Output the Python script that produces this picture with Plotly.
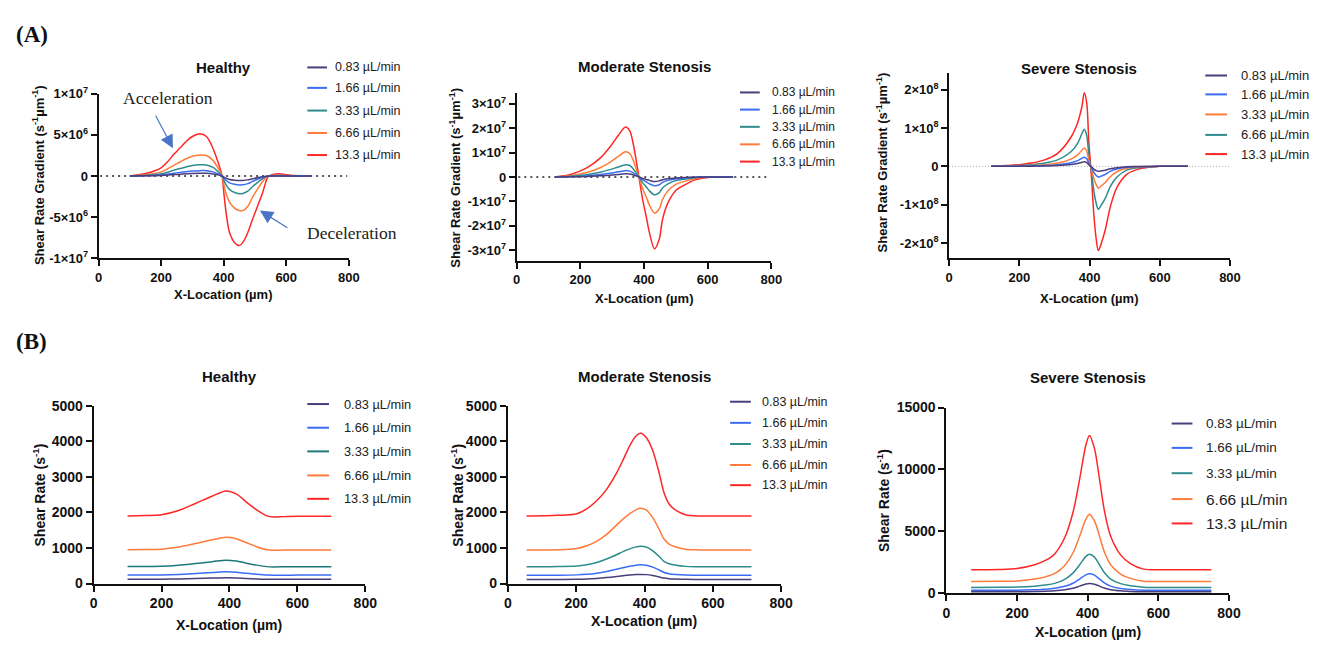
import plotly.graph_objects as go

W, H = 1322, 648
SANS = "Liberation Sans, Arial, sans-serif"
SERIF = "Liberation Serif, Times New Roman, serif"

flow_labels = ["0.83 µL/min", "1.66 µL/min", "3.33 µL/min", "6.66 µL/min", "13.3 µL/min"]

PURPLE = "#4a3d7c"
BLUE = "#3b6cf4"
TEAL = "#2e8c8c"
ORANGE = "#ff7b3a"
RED = "#ff2626"

# ---- (A) shear rate gradient, Healthy (units of 1e6 s^-1 µm^-1) ----
healthy_grad_x = [100, 150, 200, 220, 240, 260, 280, 300, 324, 345, 366, 380, 395, 401, 408, 419,
                  435, 450, 461, 477, 492, 508, 524, 538, 545, 560, 575, 614, 666, 680]
healthy_grad_083 = [0, 0.02, 0.07, 0.11, 0.17, 0.22, 0.26, 0.3, 0.32, 0.32, 0.25, 0.15, 0, -0.14, -0.28, -0.42,
                    -0.51, -0.55, -0.54, -0.47, -0.33, -0.2, -0.09, -0.02, 0, 0.01, 0.01, 0, 0, 0]
healthy_grad_166 = [0, 0.04, 0.13, 0.22, 0.34, 0.44, 0.53, 0.61, 0.65, 0.65, 0.5, 0.29, 0, -0.28, -0.55, -0.83,
                    -1.0, -1.08, -1.07, -0.93, -0.66, -0.4, -0.18, -0.03, 0, 0.02, 0.02, 0.01, 0, 0]
healthy_grad_333 = [0, 0.08, 0.27, 0.45, 0.7, 0.9, 1.1, 1.28, 1.36, 1.35, 1.05, 0.6, 0, -0.55, -1.1, -1.65,
                    -2.0, -2.15, -2.12, -1.85, -1.3, -0.8, -0.35, -0.05, 0, 0.04, 0.05, 0.02, 0, 0]
healthy_grad_666 = [0, 0.15, 0.5, 0.85, 1.3, 1.7, 2.1, 2.4, 2.55, 2.5, 1.9, 1.1, 0, -1.1, -2.2, -3.2,
                    -3.9, -4.2, -4.2, -3.7, -2.6, -1.6, -0.7, -0.1, 0, 0.08, 0.1, 0.03, 0, 0]
healthy_grad_133 = [0, 0.3, 1.0, 1.7, 2.6, 3.4, 4.2, 4.8, 5.12, 4.8, 3.35, 1.9, 0, -2.2, -4.5, -6.9,
                    -8.1, -8.45, -8.1, -6.9, -5.3, -3.7, -2.1, -0.4, 0, 0.22, 0.28, 0.08, 0.01, 0]

# ---- (A) shear rate gradient, Moderate Stenosis (units of 1e7) ----
moderate_grad_x = [120, 169, 220, 262, 293, 319, 342, 355, 365, 376, 384, 396, 407, 417, 433, 448,
                   458, 474, 500, 531, 560, 600, 640, 680]
moderate_grad_083 = [0, 0.006, 0.022, 0.05, 0.075, 0.105, 0.13, 0.12, 0.09, 0.04, 0, -0.06, -0.1, -0.14, -0.19, -0.16,
                     -0.11, -0.07, -0.04, -0.02, -0.008, 0, 0, 0]
moderate_grad_166 = [0, 0.012, 0.045, 0.1, 0.15, 0.21, 0.26, 0.24, 0.18, 0.08, 0, -0.12, -0.2, -0.28, -0.36, -0.32,
                     -0.22, -0.14, -0.08, -0.04, -0.015, 0, 0, 0]
moderate_grad_333 = [0, 0.025, 0.09, 0.19, 0.3, 0.41, 0.5, 0.47, 0.35, 0.16, 0, -0.24, -0.4, -0.57, -0.73, -0.64,
                     -0.45, -0.29, -0.15, -0.08, -0.03, 0, 0, 0]
moderate_grad_666 = [0, 0.05, 0.18, 0.38, 0.6, 0.84, 1.03, 0.96, 0.72, 0.32, 0, -0.48, -0.82, -1.15, -1.48, -1.3,
                     -0.92, -0.58, -0.3, -0.17, -0.06, -0.01, 0, 0]
moderate_grad_133 = [0, 0.1, 0.37, 0.77, 1.23, 1.7, 2.05, 1.9, 1.43, 0.64, 0, -0.95, -1.62, -2.28, -2.94, -2.54,
                     -1.75, -1.09, -0.55, -0.3, -0.12, -0.02, 0, 0]

# ---- (A) shear rate gradient, Severe Stenosis (units of 1e8) ----
severe_grad_x = [120, 160, 200, 234, 272, 309, 347, 366, 378, 385, 392, 398, 405, 412, 419, 425,
                 432, 445, 459, 478, 506, 534, 562, 600, 640, 680]
severe_grad_083 = [0, 0.001, 0.003, 0.005, 0.01, 0.021, 0.047, 0.075, 0.105, 0.12, 0.1, 0.04, -0.015, -0.07, -0.11, -0.13,
                   -0.12, -0.1, -0.065, -0.035, -0.012, -0.005, -0.002, 0, 0, 0]
severe_grad_166 = [0, 0.003, 0.006, 0.011, 0.021, 0.043, 0.095, 0.15, 0.21, 0.24, 0.2, 0.075, -0.03, -0.15, -0.24, -0.28,
                   -0.26, -0.21, -0.13, -0.07, -0.025, -0.01, -0.004, 0, 0, 0]
severe_grad_333 = [0, 0.005, 0.012, 0.022, 0.043, 0.085, 0.19, 0.3, 0.42, 0.48, 0.4, 0.15, -0.06, -0.31, -0.48, -0.57,
                   -0.52, -0.42, -0.27, -0.14, -0.05, -0.02, -0.008, 0, 0, 0]
severe_grad_666 = [0, 0.01, 0.023, 0.043, 0.085, 0.17, 0.38, 0.6, 0.85, 0.97, 0.8, 0.3, -0.12, -0.62, -0.97, -1.12,
                   -1.03, -0.83, -0.53, -0.28, -0.1, -0.04, -0.015, 0, 0, 0]
severe_grad_133 = [0, 0.02, 0.045, 0.085, 0.17, 0.34, 0.76, 1.14, 1.55, 1.92, 1.65, 0.63, -0.21, -1.23, -1.9, -2.2,
                   -2.05, -1.65, -1.06, -0.55, -0.21, -0.085, -0.03, 0, 0, 0]

# ---- (B) shear rate (s^-1), Healthy ----
healthy_rate_x = [100, 150, 200, 250, 300, 350, 390, 420, 450, 480, 510, 530, 560, 600, 650, 700]
healthy_rate_083 = [119, 120, 121, 128, 141, 154, 164, 158, 143, 129, 119, 117, 118, 118, 118, 118]
healthy_rate_166 = [238, 239, 242, 256, 281, 308, 328, 316, 286, 259, 238, 234, 235, 236, 236, 236]
healthy_rate_333 = [475, 478, 483, 512, 562, 615, 655, 632, 572, 517, 475, 467, 470, 472, 472, 472]
healthy_rate_666 = [950, 955, 965, 1025, 1125, 1230, 1300, 1260, 1145, 1035, 950, 935, 940, 945, 945, 945]
healthy_rate_133 = [1900, 1910, 1930, 2050, 2250, 2460, 2600, 2520, 2290, 2070, 1900, 1870, 1880, 1890, 1890, 1890]

# ---- (B) shear rate (s^-1), Moderate Stenosis ----
moderate_rate_x = [55, 100, 145, 202, 231, 260, 289, 318, 337, 357, 376, 388, 405, 424, 443, 457,
                   472, 492, 520, 559, 636, 713]
moderate_rate_083 = [112, 112, 113, 117, 126, 142, 166, 196, 218, 238, 252, 256, 250, 224, 185, 153,
                     136, 125, 117, 114, 114, 114]
moderate_rate_166 = [232, 233, 235, 243, 260, 292, 340, 400, 445, 485, 515, 529, 513, 460, 380, 312,
                     277, 255, 240, 235, 235, 235]
moderate_rate_333 = [472, 473, 476, 490, 525, 590, 690, 810, 895, 975, 1030, 1050, 1025, 920, 760, 625,
                     555, 512, 482, 474, 474, 474]
moderate_rate_666 = [940, 942, 948, 985, 1060, 1186, 1380, 1642, 1810, 1962, 2075, 2117, 2070, 1850, 1520, 1250,
                     1110, 1025, 965, 945, 945, 945]
moderate_rate_133 = [1900, 1905, 1916, 1962, 2099, 2327, 2646, 3102, 3467, 3878, 4151, 4224, 4106, 3741, 3102, 2555,
                     2235, 2053, 1934, 1898, 1898, 1898]

# ---- (B) shear rate (s^-1), Severe Stenosis ----
severe_rate_x = [70, 150, 200, 250, 280, 307, 335, 358, 377, 395, 405, 419, 433, 447, 465, 493,
                 521, 558, 620, 750]
severe_rate_083 = [119, 120, 125, 144, 165, 200, 280, 405, 575, 745, 785, 730, 580, 418, 288, 194,
                   150, 122, 119, 119]
severe_rate_166 = [238, 240, 250, 288, 330, 400, 560, 810, 1150, 1490, 1570, 1460, 1160, 835, 575, 388,
                   300, 244, 238, 238]
severe_rate_333 = [475, 480, 500, 575, 660, 800, 1125, 1625, 2300, 2980, 3150, 2920, 2320, 1670, 1150, 775,
                   600, 487, 475, 475]
severe_rate_666 = [950, 960, 1000, 1150, 1325, 1600, 2250, 3250, 4600, 6000, 6380, 5850, 4650, 3350, 2300, 1550,
                   1200, 975, 950, 950]
severe_rate_133 = [1900, 1920, 2000, 2300, 2650, 3200, 4500, 6500, 9200, 12000, 12750, 11700, 9300, 6700, 4600, 3100,
                   2400, 1950, 1900, 1900]


def sup(mant, exp):
    return f"{mant}×10<sup>{exp}</sup>"


GRAD_TITLE = "Shear Rate Gradient (s<sup>-1</sup>µm<sup>-1</sup>)"
RATE_TITLE = "Shear Rate (s<sup>-1</sup>)"

# panel boxes in pixels: (left, top, right, bottom)
panels = [
    dict(title="Healthy", box=(95.7, 87, 349, 256), x=healthy_grad_x,
         ys=[healthy_grad_083, healthy_grad_166, healthy_grad_333, healthy_grad_666, healthy_grad_133],
         colors=[PURPLE, BLUE, TEAL, ORANGE, RED],
         yrange=[-10, 10], tickvals=[-10, -5, 0, 5, 10],
         ticktext=[sup("-1", 7), sup("-5", 6), "0", sup("5", 6), sup("1", 7)],
         ytitle=GRAD_TITLE, tfs=13,
         title_pos=(222, 60), xt_pos=(222, 293), yt_pos=(34, 171),
         leg=dict(x0=307, x1=327, tx=333, ys=[60, 81, 104.3, 127.3, 150], fs=[12.5] * 5),
         zero=dict(x0=5, x1=795, color="#222", width=1.6, dash="2px,4px")),
    dict(title="Moderate Stenosis", box=(519, 86.7, 776.7, 258.3), x=moderate_grad_x,
         ys=[moderate_grad_083, moderate_grad_166, moderate_grad_333, moderate_grad_666, moderate_grad_133],
         colors=[PURPLE, BLUE, TEAL, ORANGE, RED],
         yrange=[-3.42, 3.42], tickvals=[-3, -2, -1, 0, 1, 2, 3],
         ticktext=[sup("-3", 7), sup("-2", 7), sup("-1", 7), "0", sup("1", 7), sup("2", 7), sup("3", 7)],
         ytitle=GRAD_TITLE, tfs=13,
         title_pos=(648, 59.5), xt_pos=(648, 297), yt_pos=(456.7, 173),
         leg=dict(x0=745, x1=765, tx=775, ys=[85.7, 103.3, 121, 139, 156.7], fs=[12] * 5),
         zero=dict(x0=5, x1=790, color="#222", width=1.6, dash="2px,4px")),
    dict(title="Severe Stenosis", box=(956.7, 66, 1241, 256), x=severe_grad_x,
         ys=[severe_grad_083, severe_grad_166, severe_grad_333, severe_grad_666, severe_grad_133],
         colors=[PURPLE, BLUE, ORANGE, TEAL, RED],
         yrange=[-2.4, 2.43], tickvals=[-2, -1, 0, 1, 2],
         ticktext=[sup("-2", 8), sup("-1", 8), "0", sup("1", 8), sup("2", 8)],
         ytitle=GRAD_TITLE, tfs=13,
         title_pos=(1088, 61.5), xt_pos=(1098, 297), yt_pos=(888.3, 158),
         leg=dict(x0=1216, x1=1238, tx=1250, ys=[68.3, 87.7, 108.3, 129.3, 149], fs=[13] * 5),
         zero=dict(x0=0, x1=800, color="#aaaaaa", width=1, dash="1px,2px")),
    dict(title="Healthy", box=(90.7, 407.3, 365.7, 590), x=healthy_rate_x,
         ys=[healthy_rate_083, healthy_rate_166, healthy_rate_333, healthy_rate_666, healthy_rate_133],
         colors=[PURPLE, BLUE, "#1f7878", ORANGE, RED],
         yrange=[0, 5000], tickvals=[0, 1000, 2000, 3000, 4000, 5000],
         ticktext=["0", "1000", "2000", "3000", "4000", "5000"],
         ytitle=RATE_TITLE, tfs=14,
         title_pos=(228, 377), xt_pos=(228, 633), yt_pos=(35, 499),
         leg=dict(x0=307, x1=329, tx=342, ys=[405.7, 430, 454.3, 479, 503], fs=[12.8] * 5),
         zero=None),
    dict(title="Moderate Stenosis", box=(510, 407.3, 786.7, 590), x=moderate_rate_x,
         ys=[moderate_rate_083, moderate_rate_166, moderate_rate_333, moderate_rate_666, moderate_rate_133],
         colors=[PURPLE, BLUE, TEAL, ORANGE, RED],
         yrange=[0, 5000], tickvals=[0, 1000, 2000, 3000, 4000, 5000],
         ticktext=["0", "1000", "2000", "3000", "4000", "5000"],
         ytitle=RATE_TITLE, tfs=14,
         title_pos=(648, 377), xt_pos=(648, 629), yt_pos=(458.3, 499),
         leg=dict(x0=735, x1=756, tx=765, ys=[403.3, 425, 446.7, 468.3, 489], fs=[12.5] * 5),
         zero=None),
    dict(title="Severe Stenosis", box=(954, 409.3, 1240, 600), x=severe_rate_x,
         ys=[severe_rate_083, severe_rate_166, severe_rate_333, severe_rate_666, severe_rate_133],
         colors=[PURPLE, BLUE, TEAL, ORANGE, RED],
         yrange=[0, 15000], tickvals=[0, 5000, 10000, 15000],
         ticktext=["0", "5000", "10000", "15000"],
         ytitle=RATE_TITLE, tfs=14,
         title_pos=(1097, 378), xt_pos=(1097, 640), yt_pos=(890, 505),
         leg=dict(x0=1182, x1=1203, tx=1215, ys=[425.7, 450.7, 476.7, 503.3, 528.3],
                  fs=[13.5, 13.5, 13.5, 15.5, 15.5]),
         zero=None),
]


def fx(px):
    return px / W


def fy(py):
    return 1 - py / H


fig = go.Figure()
annotations = []
shapes = []
layout_axes = {}

for i, p in enumerate(panels, start=1):
    sfx = "" if i == 1 else str(i)
    xa, ya = "x" + sfx, "y" + sfx
    left, top, right, bottom = p["box"]

    # curves, largest flow first so the small ones stay visible on top
    for k in reversed(range(5)):
        fig.add_trace(go.Scatter(
            x=p["x"], y=p["ys"][k], mode="lines", name=flow_labels[k],
            line=dict(color=p["colors"][k], width=1.5, shape="spline", smoothing=0.9),
            xaxis=xa, yaxis=ya, showlegend=False))

    axis_common = dict(showline=True, linecolor="#111", linewidth=2, mirror=False,
                       ticks="outside", ticklen=6, tickwidth=2, tickcolor="#111",
                       showgrid=False, zeroline=False, fixedrange=True,
                       tickfont=dict(family=SANS, size=p["tfs"], color="#111", weight="bold"))
    layout_axes["xaxis" + sfx] = dict(
        domain=[fx(left), fx(right)], range=[0, 800], anchor=ya,
        tickvals=[0, 200, 400, 600, 800], **axis_common)
    layout_axes["yaxis" + sfx] = dict(
        domain=[fy(bottom), fy(top)], range=p["yrange"], anchor=xa,
        tickvals=p["tickvals"], ticktext=p["ticktext"], tickmode="array", **axis_common)

    # zero reference line
    if p["zero"]:
        z = p["zero"]
        shapes.append(dict(type="line", xref=xa, yref=ya, x0=z["x0"], x1=z["x1"], y0=0, y1=0,
                           line=dict(color=z["color"], width=z["width"], dash=z["dash"]), layer="below"))

    # panel title and axis titles
    annotations.append(dict(text=p["title"], x=fx(p["title_pos"][0]), y=fy(p["title_pos"][1]),
                            xref="paper", yref="paper", showarrow=False, xanchor="center", yanchor="middle",
                            font=dict(family=SANS, size=15, color="#111", weight="bold")))
    annotations.append(dict(text="X-Location (µm)", x=fx(p["xt_pos"][0]), y=fy(p["xt_pos"][1]),
                            xref="paper", yref="paper", showarrow=False, xanchor="center", yanchor="middle",
                            font=dict(family=SANS, size=p["tfs"], color="#111", weight="bold")))
    annotations.append(dict(text=p["ytitle"], x=fx(p["yt_pos"][0]), y=fy(p["yt_pos"][1]),
                            xref="paper", yref="paper", showarrow=False, xanchor="center", yanchor="middle",
                            textangle=-90,
                            font=dict(family=SANS, size=p["tfs"], color="#111", weight="bold")))

    # legend: short line sample + label per flow rate
    lg = p["leg"]
    for k in range(5):
        shapes.append(dict(type="line", xref="paper", yref="paper",
                           x0=fx(lg["x0"]), x1=fx(lg["x1"]), y0=fy(lg["ys"][k]), y1=fy(lg["ys"][k]),
                           line=dict(color=p["colors"][k], width=2)))
        annotations.append(dict(text=flow_labels[k], x=fx(lg["tx"]), y=fy(lg["ys"][k]),
                                xref="paper", yref="paper", showarrow=False,
                                xanchor="left", yanchor="middle",
                                font=dict(family=SANS, size=lg["fs"][k], color="#222")))

# section labels
for label, ypos in (("(A)", 26), ("(B)", 341)):
    annotations.append(dict(text=label, x=fx(10), y=fy(ypos), xref="paper", yref="paper",
                            showarrow=False, xanchor="left", yanchor="middle",
                            font=dict(family=SERIF, size=23, color="#111", weight="bold")))

# flow annotations on the healthy gradient panel
annotations.append(dict(text="Acceleration", x=fx(166), y=fy(91), xref="paper", yref="paper",
                        showarrow=False, xanchor="center", yanchor="middle",
                        font=dict(family=SERIF, size=17.5, color="#222")))
annotations.append(dict(text="Deceleration", x=fx(352), y=fy(230), xref="paper", yref="paper",
                        showarrow=False, xanchor="center", yanchor="middle",
                        font=dict(family=SERIF, size=17.5, color="#222")))
# pointer arrows drawn as annotation arrows (tail offset in pixels)
annotations.append(dict(text="", x=fx(171), y=fy(143), xref="paper", yref="paper",
                        showarrow=True, ax=-18, ay=-34, arrowhead=2, arrowsize=2.2, arrowwidth=1.2,
                        arrowcolor="#4a74c6"))
annotations.append(dict(text="", x=fx(259), y=fy(207), xref="paper", yref="paper",
                        showarrow=True, ax=29, ay=18, arrowhead=2, arrowsize=2.2, arrowwidth=1.2,
                        arrowcolor="#4a74c6"))

fig.update_layout(
    width=W, height=H, margin=dict(l=0, r=0, t=0, b=0),
    paper_bgcolor="white", plot_bgcolor="white", showlegend=False,
    font=dict(family=SANS, color="#111"),
    annotations=annotations, shapes=shapes, **layout_axes)

fig.write_html("out.html")
